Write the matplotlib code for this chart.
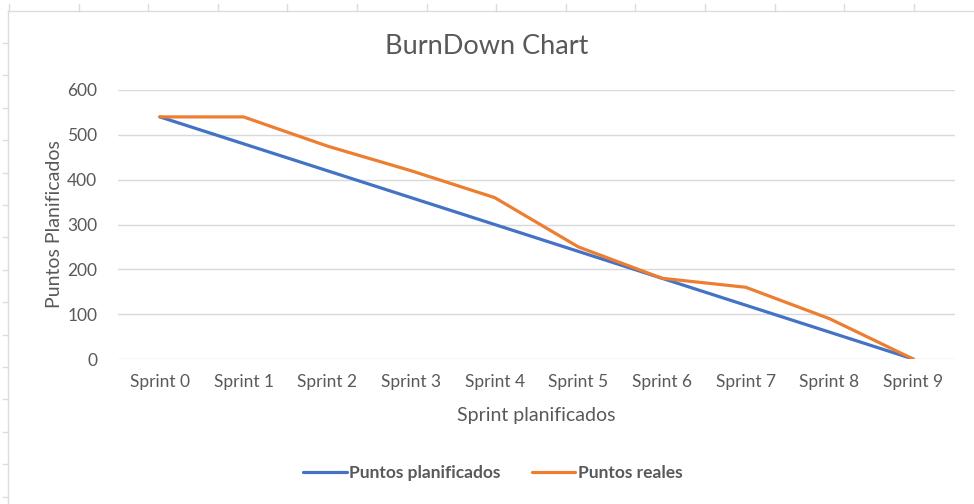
import matplotlib
matplotlib.use("Agg")
import matplotlib.pyplot as plt
from matplotlib.lines import Line2D

sprints = ["Sprint 0", "Sprint 1", "Sprint 2", "Sprint 3", "Sprint 4",
           "Sprint 5", "Sprint 6", "Sprint 7", "Sprint 8", "Sprint 9"]
planificados = [540, 480, 420, 360, 300, 240, 180, 120, 60, 0]
reales = [540, 540, 475, 420, 360, 250, 180, 160, 90, 0]

gris = "#595959"
plt.rcParams["font.family"] = ["Lato", "DejaVu Sans"]

fig = plt.figure(figsize=(9.74, 5.04), dpi=100)

# trozo de hoja de calculo alrededor del grafico
fig.add_artist(Line2D([0.008, 1], [1 - 11 / 504, 1 - 11 / 504], color="#dcdcdc", lw=1))
fig.add_artist(Line2D([8 / 974, 8 / 974], [0, 1 - 11 / 504], color="#dcdcdc", lw=1))
for i in range(15):
    x = (9 + 69.6 * i) / 974
    fig.add_artist(Line2D([x, x], [1 - 11 / 504, 1 - 4 / 504], color="#dcdcdc", lw=1))
for i in range(16):
    y = 1 - (43 + 32.4 * i) / 504
    fig.add_artist(Line2D([3 / 974, 8 / 974], [y, y], color="#dcdcdc", lw=1))

ax = fig.add_axes([118 / 974, 1 - 359 / 504, (955 - 118) / 974, (359 - 90) / 504])
x = list(range(len(sprints)))
ax.plot(x, planificados, color="#4472C4", lw=2.3, label="Puntos planificados", solid_capstyle="round")
ax.plot(x, reales, color="#ED7D31", lw=2.3, label="Puntos reales", solid_capstyle="round")

ax.set_xlim(-0.5, len(sprints) - 0.5)
ax.set_ylim(0, 600)
ax.set_yticks(range(0, 601, 100))
ax.set_xticks(x)
ax.set_xticklabels(sprints)
ax.grid(axis="y", color="#d9d9d9", lw=1)
ax.set_axisbelow(True)
for s in ax.spines.values():
    s.set_visible(False)
ax.tick_params(length=0, colors=gris, labelsize=12.5)
ax.tick_params(axis="y", pad=15)
ax.tick_params(axis="x", pad=11)

ax.set_xlabel("Sprint planificados", color=gris, fontsize=14, labelpad=12)
ax.set_ylabel("Puntos Planificados", color=gris, fontsize=14, labelpad=3)
fig.text(0.5, 1 - 47 / 504, "BurnDown Chart", ha="center", va="center", color=gris, fontsize=19.5)

leg = fig.legend(loc="center", bbox_to_anchor=(493 / 974, 1 - 473 / 504), ncol=2, frameon=False,
                 prop={"weight": "bold", "size": 12.5}, handlelength=2.5, handletextpad=0.15,
                 columnspacing=1.8)
for t in leg.get_texts():
    t.set_color(gris)

fig.savefig("out.png", dpi=100)
